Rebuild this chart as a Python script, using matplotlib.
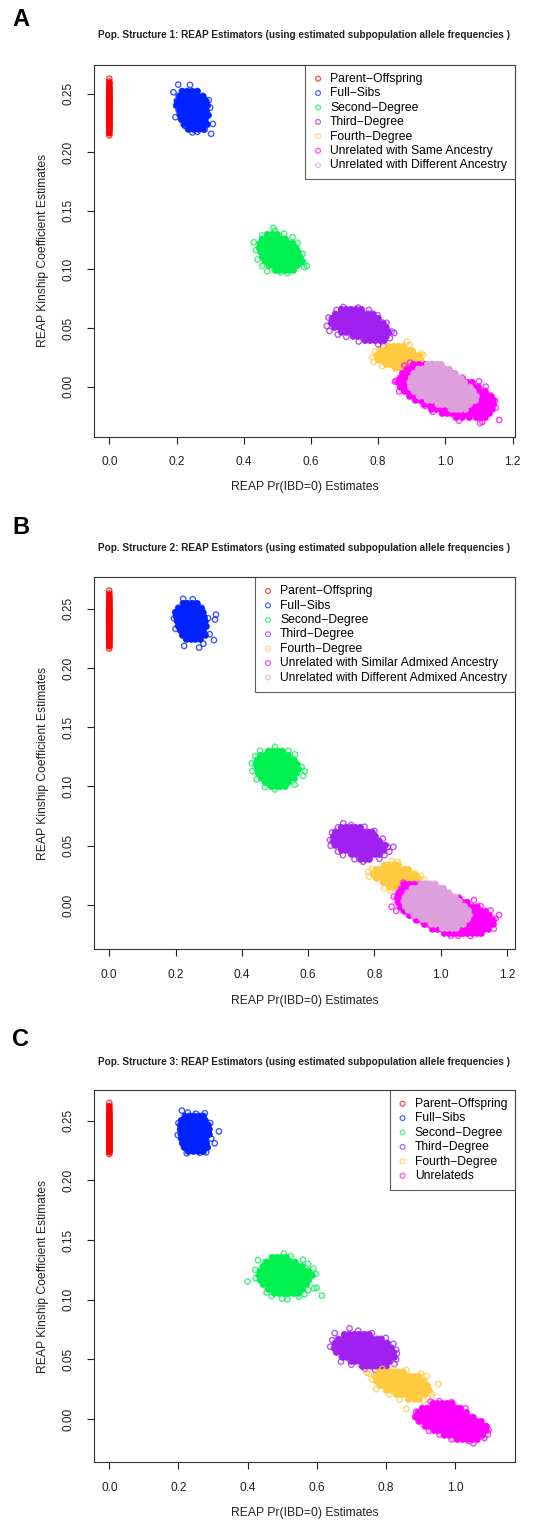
import numpy as np
import matplotlib.pyplot as plt

plt.rcParams['font.family'] = ['Liberation Sans', 'DejaVu Sans']

# colours of the relationship classes (R style)
COLORS = ['#FF0000', '#0022FF', '#00F050', '#A020F0', '#FFC940', '#FF00FF', '#DDA0DD']

LABELS_A = ['Parent\u2212Offspring', 'Full\u2212Sibs', 'Second\u2212Degree', 'Third\u2212Degree',
            'Fourth\u2212Degree', 'Unrelated with Same Ancestry', 'Unrelated with Different Ancestry']
LABELS_B = LABELS_A[:5] + ['Unrelated with Similar Admixed Ancestry',
                           'Unrelated with Different Admixed Ancestry']
LABELS_C = LABELS_A[:5] + ['Unrelateds']

TITLE = 'Pop. Structure {}: REAP Estimators (using estimated subpopulation allele frequencies )'

# ---------------- Pop. structure 1 ----------------
# clusters read as rows: (kinship value, [Pr(IBD=0) values]) plus scattered outliers
A_po_y = [0.2145, 0.2168, 0.2189, 0.2203, 0.2221, 0.2236, 0.2248, 0.2262, 0.2277, 0.2290,
          0.2305, 0.2318, 0.2331, 0.2347, 0.2360, 0.2374, 0.2389, 0.2401, 0.2416, 0.2428,
          0.2443, 0.2457, 0.2470, 0.2484, 0.2497, 0.2512, 0.2526, 0.2541, 0.2558, 0.2579,
          0.2604, 0.2628]
A_fs_rows = [
    (0.2523, [0.216, 0.231, 0.246, 0.262]),
    (0.2482, [0.206, 0.220, 0.234, 0.249, 0.263, 0.278]),
    (0.2441, [0.201, 0.215, 0.229, 0.243, 0.257, 0.272, 0.287]),
    (0.2400, [0.199, 0.212, 0.226, 0.239, 0.253, 0.266, 0.279, 0.292]),
    (0.2360, [0.206, 0.220, 0.233, 0.247, 0.260, 0.274, 0.288]),
    (0.2320, [0.209, 0.223, 0.237, 0.251, 0.265, 0.279, 0.294]),
    (0.2280, [0.214, 0.228, 0.242, 0.256, 0.270, 0.284]),
    (0.2240, [0.221, 0.235, 0.249, 0.263, 0.277, 0.290]),
    (0.2200, [0.234, 0.249, 0.264, 0.278]),
]
A_fs_out = [(0.191, 0.2512), (0.205, 0.2578), (0.240, 0.2575), (0.197, 0.2300), (0.300, 0.2380),
            (0.308, 0.2242), (0.303, 0.2158), (0.247, 0.2170), (0.262, 0.2175), (0.225, 0.2225),
            (0.284, 0.2194), (0.296, 0.2445)]
A_d2_rows = [
    (0.1300, [0.470, 0.484, 0.498]),
    (0.1262, [0.455, 0.468, 0.482, 0.496, 0.510, 0.524]),
    (0.1224, [0.448, 0.461, 0.475, 0.489, 0.503, 0.517, 0.531, 0.545]),
    (0.1186, [0.446, 0.459, 0.473, 0.487, 0.501, 0.515, 0.529, 0.543, 0.556]),
    (0.1148, [0.450, 0.464, 0.478, 0.492, 0.506, 0.520, 0.534, 0.548, 0.562]),
    (0.1110, [0.455, 0.469, 0.483, 0.497, 0.511, 0.525, 0.539, 0.553, 0.566]),
    (0.1072, [0.463, 0.477, 0.491, 0.505, 0.519, 0.533, 0.547, 0.561, 0.574]),
    (0.1034, [0.475, 0.489, 0.503, 0.517, 0.531, 0.545, 0.559]),
    (0.0996, [0.492, 0.506, 0.520, 0.534, 0.548]),
]
A_d2_out = [(0.430, 0.1232), (0.436, 0.1165), (0.441, 0.1085), (0.455, 0.1290), (0.488, 0.1355),
            (0.493, 0.1330), (0.520, 0.1305), (0.545, 0.1275), (0.560, 0.1228), (0.575, 0.1133),
            (0.580, 0.1020), (0.588, 0.1030), (0.572, 0.1065), (0.530, 0.0968), (0.510, 0.0975),
            (0.470, 0.0985), (0.455, 0.1030)]
A_d3_rows = [
    (0.0660, [0.690, 0.704, 0.718, 0.735, 0.750]),
    (0.0622, [0.672, 0.686, 0.700, 0.714, 0.728, 0.742, 0.756, 0.770, 0.784]),
    (0.0584, [0.662, 0.676, 0.690, 0.704, 0.718, 0.732, 0.746, 0.760, 0.774, 0.788, 0.800]),
    (0.0546, [0.660, 0.674, 0.688, 0.702, 0.716, 0.730, 0.744, 0.758, 0.772, 0.786, 0.800, 0.813]),
    (0.0508, [0.668, 0.682, 0.696, 0.710, 0.724, 0.738, 0.752, 0.766, 0.780, 0.794, 0.808, 0.822]),
    (0.0470, [0.690, 0.704, 0.718, 0.732, 0.746, 0.760, 0.774, 0.788, 0.802, 0.816, 0.830]),
    (0.0432, [0.724, 0.738, 0.752, 0.766, 0.780, 0.794, 0.808, 0.822]),
    (0.0394, [0.760, 0.775, 0.790, 0.805, 0.818]),
]
A_d3_out = [(0.647, 0.0518), (0.652, 0.0590), (0.655, 0.0475), (0.676, 0.0655), (0.696, 0.0680),
            (0.740, 0.0675), (0.772, 0.0655), (0.798, 0.0610), (0.825, 0.0545), (0.840, 0.0470),
            (0.848, 0.0458), (0.835, 0.0415), (0.815, 0.0345), (0.800, 0.0360), (0.742, 0.0385),
            (0.705, 0.0425), (0.680, 0.0445)]
A_d4_rows = [
    (0.0345, [0.830, 0.845, 0.860, 0.875]),
    (0.0307, [0.805, 0.819, 0.833, 0.847, 0.861, 0.875, 0.889, 0.902]),
    (0.0269, [0.795, 0.809, 0.823, 0.837, 0.851, 0.865, 0.879, 0.893, 0.907, 0.920]),
    (0.0231, [0.800, 0.814, 0.828, 0.842, 0.856, 0.870, 0.884, 0.898, 0.912, 0.926]),
    (0.0193, [0.822, 0.836, 0.850, 0.864, 0.878, 0.892, 0.906]),
    (0.0160, [0.850, 0.865, 0.880]),
]
A_d4_out = [(0.782, 0.0250), (0.786, 0.0210), (0.790, 0.0300), (0.818, 0.0335), (0.886, 0.0384),
            (0.893, 0.0355), (0.928, 0.0285), (0.934, 0.0270), (0.812, 0.0175), (0.905, 0.0150)]
A_un_rows = [
    (0.0190, [0.905, 0.920, 0.940, 0.960]),
    (0.0152, [0.885, 0.899, 0.913, 0.927, 0.945, 0.965, 0.985]),
    (0.0114, [0.872, 0.886, 0.900, 0.914, 0.930, 0.950, 0.975, 1.000, 1.020]),
    (0.0076, [0.865, 0.879, 0.893, 0.907, 0.925, 0.950, 0.990, 1.030, 1.050]),
    (0.0038, [0.858, 0.872, 0.886, 0.900, 0.915, 0.950, 1.000, 1.045, 1.065, 1.078]),
    (0.0000, [0.866, 0.880, 0.894, 0.908, 0.960, 1.020, 1.070, 1.084, 1.098]),
    (-0.0038, [0.878, 0.892, 0.906, 0.920, 0.970, 1.030, 1.075, 1.089, 1.103, 1.117]),
    (-0.0076, [0.893, 0.907, 0.921, 0.935, 0.990, 1.060, 1.082, 1.096, 1.110, 1.124, 1.135]),
    (-0.0114, [0.910, 0.924, 0.938, 0.952, 0.966, 1.000, 1.040, 1.070, 1.087, 1.101, 1.115,
               1.129, 1.141]),
    (-0.0152, [0.935, 0.949, 0.963, 0.977, 0.991, 1.005, 1.019, 1.033, 1.047, 1.061, 1.075,
               1.089, 1.103, 1.117, 1.131, 1.143]),
    (-0.0190, [0.958, 0.972, 0.986, 1.000, 1.014, 1.028, 1.042, 1.056, 1.070, 1.084, 1.098,
               1.112, 1.126, 1.138]),
    (-0.0228, [0.990, 1.004, 1.018, 1.032, 1.046, 1.060, 1.074, 1.088, 1.102, 1.116, 1.130]),
    (-0.0262, [1.030, 1.050, 1.070, 1.090, 1.105, 1.118]),
]
A_un_out = [(0.850, 0.0043), (0.853, 0.0050), (0.862, -0.0040), (0.878, 0.0180), (0.895, 0.0205),
            (0.940, -0.0165), (0.962, -0.0215), (1.040, -0.0290), (1.103, -0.0310), (1.110, -0.0300),
            (1.160, -0.0284), (1.150, -0.0180), (1.148, -0.0120), (1.120, 0.0000), (1.100, 0.0045)]
A_ud_rows = [
    (0.0190, [0.946, 0.960, 0.974, 0.986]),
    (0.0152, [0.919, 0.932, 0.946, 0.959, 0.973, 0.986, 0.999, 1.010]),
    (0.0114, [0.906, 0.920, 0.933, 0.947, 0.960, 0.974, 0.987, 1.001, 1.014, 1.028]),
    (0.0076, [0.898, 0.911, 0.925, 0.938, 0.952, 0.965, 0.979, 0.992, 1.006, 1.019, 1.033, 1.045]),
    (0.0038, [0.894, 0.907, 0.921, 0.934, 0.948, 0.961, 0.975, 0.988, 1.002, 1.015, 1.029,
              1.042, 1.056]),
    (0.0000, [0.896, 0.910, 0.923, 0.937, 0.950, 0.964, 0.977, 0.991, 1.004, 1.018, 1.031,
              1.045, 1.058, 1.072]),
    (-0.0038, [0.906, 0.919, 0.933, 0.946, 0.960, 0.973, 0.987, 1.000, 1.014, 1.027, 1.041,
               1.054, 1.068, 1.082]),
    (-0.0076, [0.921, 0.935, 0.948, 0.962, 0.975, 0.989, 1.002, 1.016, 1.029, 1.043, 1.056,
               1.070, 1.083, 1.091]),
    (-0.0114, [0.946, 0.960, 0.973, 0.987, 1.000, 1.014, 1.027, 1.041, 1.054, 1.068, 1.081, 1.089]),
    (-0.0152, [0.977, 0.990, 1.004, 1.017, 1.031, 1.044, 1.058, 1.071]),
    (-0.0190, [1.016, 1.030, 1.044, 1.058]),
]
A_ud_out = []

# ---------------- Pop. structure 2 ----------------
B_po_y = [0.2164, 0.2185, 0.2203, 0.2219, 0.2234, 0.2250, 0.2263, 0.2279, 0.2292, 0.2306,
          0.2321, 0.2335, 0.2348, 0.2362, 0.2377, 0.2390, 0.2404, 0.2419, 0.2432, 0.2446,
          0.2461, 0.2474, 0.2488, 0.2503, 0.2517, 0.2531, 0.2546, 0.2562, 0.2580, 0.2601,
          0.2628, 0.2652]
B_fs_rows = [
    (0.2545, [0.222, 0.236, 0.250, 0.264]),
    (0.2508, [0.208, 0.222, 0.236, 0.250, 0.264, 0.278]),
    (0.2470, [0.199, 0.212, 0.226, 0.240, 0.254, 0.268, 0.282]),
    (0.2432, [0.202, 0.216, 0.230, 0.244, 0.258, 0.272, 0.286]),
    (0.2395, [0.205, 0.219, 0.233, 0.247, 0.261, 0.275, 0.289]),
    (0.2357, [0.208, 0.222, 0.236, 0.250, 0.264, 0.278, 0.291]),
    (0.2320, [0.214, 0.228, 0.242, 0.256, 0.270, 0.284]),
    (0.2282, [0.220, 0.234, 0.248, 0.262, 0.276, 0.290]),
    (0.2245, [0.232, 0.246, 0.260, 0.274]),
]
B_fs_out = [(0.223, 0.2583), (0.252, 0.2580), (0.195, 0.2420), (0.200, 0.2330), (0.226, 0.2186),
            (0.271, 0.2172), (0.322, 0.2450), (0.319, 0.2408), (0.298, 0.2420), (0.316, 0.2235),
            (0.303, 0.2285), (0.284, 0.2205)]
B_d2_rows = [
    (0.1300, [0.480, 0.494, 0.508, 0.522]),
    (0.1262, [0.456, 0.470, 0.484, 0.498, 0.512, 0.526, 0.540]),
    (0.1225, [0.446, 0.460, 0.474, 0.488, 0.502, 0.516, 0.530, 0.544, 0.556]),
    (0.1187, [0.442, 0.456, 0.470, 0.484, 0.498, 0.512, 0.526, 0.540, 0.554, 0.566]),
    (0.1150, [0.446, 0.460, 0.474, 0.488, 0.502, 0.516, 0.530, 0.544, 0.558, 0.570]),
    (0.1112, [0.450, 0.464, 0.478, 0.492, 0.506, 0.520, 0.534, 0.548, 0.562]),
    (0.1075, [0.458, 0.472, 0.486, 0.500, 0.514, 0.528, 0.542, 0.556]),
    (0.1037, [0.470, 0.484, 0.498, 0.512, 0.526, 0.540]),
    (0.1000, [0.488, 0.502, 0.516, 0.530]),
]
B_d2_out = [(0.430, 0.1195), (0.432, 0.1130), (0.440, 0.1255), (0.455, 0.1300), (0.500, 0.1335),
            (0.540, 0.1300), (0.560, 0.1270), (0.580, 0.1165), (0.590, 0.1130), (0.585, 0.1090),
            (0.560, 0.1015), (0.500, 0.0975), (0.470, 0.0995), (0.445, 0.1060)]
B_d3_rows = [
    (0.0655, [0.700, 0.714, 0.728, 0.742, 0.756]),
    (0.0617, [0.682, 0.696, 0.710, 0.724, 0.738, 0.752, 0.766, 0.780, 0.792]),
    (0.0580, [0.676, 0.690, 0.704, 0.718, 0.732, 0.746, 0.760, 0.774, 0.788, 0.802]),
    (0.0542, [0.674, 0.688, 0.702, 0.716, 0.730, 0.744, 0.758, 0.772, 0.786, 0.800, 0.814]),
    (0.0505, [0.680, 0.694, 0.708, 0.722, 0.736, 0.750, 0.764, 0.778, 0.792, 0.806, 0.820, 0.832]),
    (0.0467, [0.700, 0.714, 0.728, 0.742, 0.756, 0.770, 0.784, 0.798, 0.812, 0.826]),
    (0.0430, [0.730, 0.744, 0.758, 0.772, 0.786, 0.800, 0.814]),
    (0.0392, [0.755, 0.770, 0.785]),
]
B_d3_out = [(0.666, 0.0548), (0.668, 0.0500), (0.672, 0.0610), (0.690, 0.0655), (0.706, 0.0690),
            (0.730, 0.0675), (0.770, 0.0660), (0.800, 0.0625), (0.825, 0.0560), (0.840, 0.0490),
            (0.857, 0.0490), (0.845, 0.0450), (0.830, 0.0420), (0.815, 0.0390), (0.766, 0.0365),
            (0.740, 0.0385), (0.705, 0.0420), (0.690, 0.0450)]
B_d4_rows = [
    (0.0340, [0.830, 0.844, 0.858, 0.872]),
    (0.0302, [0.805, 0.819, 0.833, 0.847, 0.861, 0.875, 0.889, 0.902]),
    (0.0265, [0.796, 0.810, 0.824, 0.838, 0.852, 0.866, 0.880, 0.894, 0.908, 0.922]),
    (0.0227, [0.806, 0.820, 0.834, 0.848, 0.862, 0.876, 0.890, 0.904, 0.918, 0.932]),
    (0.0190, [0.826, 0.840, 0.854, 0.868, 0.882, 0.896, 0.910, 0.924]),
    (0.0155, [0.845, 0.860, 0.875]),
]
B_d4_out = [(0.781, 0.0280), (0.784, 0.0240), (0.792, 0.0305), (0.852, 0.0370), (0.870, 0.0365),
            (0.940, 0.0245), (0.952, 0.0210), (0.945, 0.0175), (0.847, 0.0120), (0.830, 0.0140)]
B_un_rows = [
    (0.0175, [0.890, 0.904, 0.918, 0.935, 0.955]),
    (0.0137, [0.880, 0.894, 0.908, 0.922, 0.940, 0.965]),
    (0.0100, [0.872, 0.886, 0.900, 0.914, 0.930, 0.960, 0.990, 1.010]),
    (0.0062, [0.868, 0.882, 0.896, 0.910, 0.930, 0.970, 1.020, 1.040, 1.055]),
    (0.0025, [0.870, 0.884, 0.898, 0.912, 0.950, 1.000, 1.050, 1.065, 1.079]),
    (-0.0013, [0.876, 0.890, 0.904, 0.918, 0.960, 1.030, 1.070, 1.084, 1.098, 1.110]),
    (-0.0050, [0.888, 0.902, 0.916, 0.930, 0.990, 1.060, 1.080, 1.094, 1.108, 1.122, 1.135]),
    (-0.0088, [0.905, 0.919, 0.933, 0.947, 1.000, 1.050, 1.075, 1.089, 1.103, 1.117, 1.131, 1.145]),
    (-0.0125, [0.925, 0.939, 0.953, 0.967, 0.990, 1.020, 1.050, 1.075, 1.090, 1.104, 1.118,
               1.132, 1.146, 1.158]),
    (-0.0163, [0.950, 0.964, 0.978, 0.992, 1.006, 1.020, 1.034, 1.048, 1.062, 1.076, 1.090,
               1.104, 1.118, 1.132, 1.146, 1.158]),
    (-0.0200, [0.975, 0.989, 1.003, 1.017, 1.031, 1.045, 1.059, 1.073, 1.087, 1.101, 1.115,
               1.129, 1.142]),
    (-0.0238, [1.010, 1.024, 1.038, 1.052, 1.066, 1.080, 1.094, 1.108, 1.120]),
]
B_un_out = [(0.852, -0.0014), (0.858, 0.0070), (0.866, -0.0050), (0.887, 0.0188), (1.053, -0.0260),
            (1.090, -0.0262), (1.176, -0.0084), (1.165, -0.0115), (1.160, -0.0200), (1.120, -0.0010),
            (1.100, 0.0040), (1.060, -0.0240), (1.030, -0.0260), (1.150, -0.0045)]
B_ud_rows = [
    (0.0180, [0.940, 0.954, 0.968, 0.982]),
    (0.0142, [0.913, 0.927, 0.941, 0.955, 0.969, 0.983, 0.997, 1.008]),
    (0.0105, [0.900, 0.914, 0.928, 0.942, 0.956, 0.970, 0.984, 0.998, 1.012, 1.025]),
    (0.0067, [0.892, 0.906, 0.920, 0.934, 0.948, 0.962, 0.976, 0.990, 1.004, 1.018, 1.032, 1.043]),
    (0.0030, [0.888, 0.902, 0.916, 0.930, 0.944, 0.958, 0.972, 0.986, 1.000, 1.014, 1.028,
              1.042, 1.055]),
    (-0.0008, [0.892, 0.906, 0.920, 0.934, 0.948, 0.962, 0.976, 0.990, 1.004, 1.018, 1.032,
               1.046, 1.060, 1.071]),
    (-0.0045, [0.902, 0.916, 0.930, 0.944, 0.958, 0.972, 0.986, 1.000, 1.014, 1.028, 1.042,
               1.056, 1.070, 1.082]),
    (-0.0083, [0.918, 0.932, 0.946, 0.960, 0.974, 0.988, 1.002, 1.016, 1.030, 1.044, 1.058,
               1.072, 1.086]),
    (-0.0120, [0.942, 0.956, 0.970, 0.984, 0.998, 1.012, 1.026, 1.040, 1.054, 1.068, 1.080]),
    (-0.0158, [0.970, 0.984, 0.998, 1.012, 1.026, 1.040, 1.054, 1.066]),
    (-0.0195, [1.005, 1.019, 1.033, 1.047]),
]
B_ud_out = []

# ---------------- Pop. structure 3 ----------------
C_po_y = [0.2220, 0.2238, 0.2254, 0.2267, 0.2281, 0.2294, 0.2306, 0.2319, 0.2331, 0.2344,
          0.2356, 0.2369, 0.2381, 0.2394, 0.2406, 0.2419, 0.2431, 0.2444, 0.2457, 0.2469,
          0.2482, 0.2495, 0.2508, 0.2522, 0.2537, 0.2553, 0.2571, 0.2596, 0.2623, 0.2648]
C_fs_rows = [
    (0.2540, [0.218, 0.232, 0.246, 0.260, 0.272]),
    (0.2502, [0.208, 0.221, 0.235, 0.249, 0.263, 0.276]),
    (0.2465, [0.205, 0.218, 0.232, 0.246, 0.260, 0.274, 0.286]),
    (0.2427, [0.205, 0.219, 0.233, 0.247, 0.261, 0.275, 0.288]),
    (0.2390, [0.206, 0.220, 0.234, 0.248, 0.262, 0.276, 0.288]),
    (0.2352, [0.208, 0.222, 0.236, 0.250, 0.264, 0.278]),
    (0.2315, [0.211, 0.225, 0.239, 0.253, 0.267, 0.281]),
    (0.2277, [0.216, 0.230, 0.244, 0.258, 0.272, 0.284]),
    (0.2245, [0.228, 0.242, 0.256, 0.270]),
]
C_fs_out = [(0.210, 0.2584), (0.227, 0.2568), (0.250, 0.2558), (0.276, 0.2562), (0.200, 0.2480),
            (0.198, 0.2380), (0.224, 0.2227), (0.262, 0.2232), (0.280, 0.2235), (0.317, 0.2410),
            (0.305, 0.2310), (0.295, 0.2350), (0.292, 0.2480)]
C_d2_rows = [
    (0.1355, [0.470, 0.484, 0.498, 0.512]),
    (0.1318, [0.452, 0.466, 0.480, 0.494, 0.508, 0.522, 0.536]),
    (0.1280, [0.444, 0.458, 0.472, 0.486, 0.500, 0.514, 0.528, 0.542, 0.556]),
    (0.1243, [0.436, 0.450, 0.464, 0.478, 0.492, 0.506, 0.520, 0.534, 0.548, 0.562, 0.576]),
    (0.1205, [0.432, 0.446, 0.460, 0.474, 0.488, 0.502, 0.516, 0.530, 0.544, 0.558, 0.572, 0.586]),
    (0.1168, [0.436, 0.450, 0.464, 0.478, 0.492, 0.506, 0.520, 0.534, 0.548, 0.562, 0.576]),
    (0.1130, [0.444, 0.458, 0.472, 0.486, 0.500, 0.514, 0.528, 0.542, 0.556, 0.570]),
    (0.1093, [0.458, 0.472, 0.486, 0.500, 0.514, 0.528, 0.542, 0.556]),
    (0.1055, [0.476, 0.490, 0.504, 0.518, 0.532, 0.546]),
]
C_d2_out = [(0.400, 0.1152), (0.422, 0.1250), (0.424, 0.1180), (0.430, 0.1330), (0.505, 0.1385),
            (0.525, 0.1365), (0.560, 0.1335), (0.575, 0.1300), (0.590, 0.1260), (0.598, 0.1215),
            (0.592, 0.1095), (0.600, 0.1100), (0.615, 0.1033), (0.575, 0.1080), (0.565, 0.1045),
            (0.548, 0.1025), (0.515, 0.1003), (0.500, 0.1010), (0.470, 0.1030), (0.455, 0.1060)]
C_d3_rows = [
    (0.0710, [0.680, 0.694, 0.708, 0.722, 0.736, 0.750]),
    (0.0672, [0.662, 0.676, 0.690, 0.704, 0.718, 0.732, 0.746, 0.760, 0.774, 0.786]),
    (0.0635, [0.652, 0.666, 0.680, 0.694, 0.708, 0.722, 0.736, 0.750, 0.764, 0.778, 0.792, 0.804]),
    (0.0597, [0.650, 0.664, 0.678, 0.692, 0.706, 0.720, 0.734, 0.748, 0.762, 0.776, 0.790,
              0.804, 0.816]),
    (0.0560, [0.656, 0.670, 0.684, 0.698, 0.712, 0.726, 0.740, 0.754, 0.768, 0.782, 0.796,
              0.810, 0.822]),
    (0.0522, [0.672, 0.686, 0.700, 0.714, 0.728, 0.742, 0.756, 0.770, 0.784, 0.798, 0.812, 0.824]),
    (0.0485, [0.698, 0.712, 0.726, 0.740, 0.754, 0.768, 0.782, 0.796, 0.810]),
    (0.0447, [0.730, 0.744, 0.758, 0.772, 0.786, 0.800]),
]
C_d3_out = [(0.639, 0.0606), (0.645, 0.0660), (0.652, 0.0720), (0.695, 0.0760), (0.720, 0.0740),
            (0.760, 0.0720), (0.800, 0.0680), (0.822, 0.0630), (0.830, 0.0580), (0.832, 0.0550),
            (0.830, 0.0500), (0.825, 0.0460), (0.795, 0.0430), (0.769, 0.0410), (0.740, 0.0420),
            (0.700, 0.0455), (0.670, 0.0480)]
C_d4_rows = [
    (0.0395, [0.780, 0.794, 0.808, 0.822, 0.836, 0.850]),
    (0.0357, [0.770, 0.784, 0.798, 0.812, 0.826, 0.840, 0.854, 0.868, 0.882, 0.895]),
    (0.0320, [0.772, 0.786, 0.800, 0.814, 0.828, 0.842, 0.856, 0.870, 0.884, 0.898, 0.910]),
    (0.0282, [0.782, 0.796, 0.810, 0.824, 0.838, 0.852, 0.866, 0.880, 0.894, 0.908, 0.920]),
    (0.0245, [0.800, 0.814, 0.828, 0.842, 0.856, 0.870, 0.884, 0.898, 0.912, 0.925]),
    (0.0207, [0.830, 0.844, 0.858, 0.872, 0.886, 0.900, 0.914]),
    (0.0170, [0.865, 0.880, 0.895]),
]
C_d4_out = [(0.745, 0.0388), (0.752, 0.0380), (0.760, 0.0330), (0.772, 0.0250), (0.790, 0.0420),
            (0.821, 0.0425), (0.860, 0.0410), (0.902, 0.0380), (0.918, 0.0360), (0.952, 0.0293),
            (0.935, 0.0185), (0.932, 0.0210), (0.859, 0.0084), (0.810, 0.0205), (0.840, 0.0165),
            (0.910, 0.0150)]
C_un_rows = [
    (0.0130, [0.935, 0.949, 0.963, 0.977, 0.990]),
    (0.0092, [0.905, 0.919, 0.933, 0.947, 0.961, 0.975, 0.989, 1.003, 1.015]),
    (0.0055, [0.892, 0.906, 0.920, 0.934, 0.948, 0.962, 0.976, 0.990, 1.004, 1.018, 1.032]),
    (0.0017, [0.886, 0.900, 0.914, 0.928, 0.942, 0.956, 0.970, 0.984, 0.998, 1.012, 1.026,
              1.040, 1.052]),
    (-0.0020, [0.895, 0.909, 0.923, 0.937, 0.951, 0.965, 0.979, 0.993, 1.007, 1.021, 1.035,
               1.049, 1.063, 1.075]),
    (-0.0058, [0.912, 0.926, 0.940, 0.954, 0.968, 0.982, 0.996, 1.010, 1.024, 1.038, 1.052,
               1.066, 1.080, 1.090]),
    (-0.0095, [0.938, 0.952, 0.966, 0.980, 0.994, 1.008, 1.022, 1.036, 1.050, 1.064, 1.078, 1.090]),
    (-0.0133, [0.968, 0.982, 0.996, 1.010, 1.024, 1.038, 1.052, 1.066, 1.078]),
    (-0.0170, [1.005, 1.020, 1.035, 1.050, 1.063]),
]
C_un_out = [(0.885, 0.0019), (0.888, 0.0060), (0.929, 0.0145), (0.955, 0.0150), (0.990, 0.0140),
            (1.030, 0.0090), (1.097, -0.0092), (1.095, -0.0130), (1.085, -0.0160), (1.053, -0.0204),
            (1.040, -0.0185), (0.990, -0.0170), (0.955, -0.0130), (0.925, -0.0100)]


def expand(rows):
    """Turn (y, [x...]) rows into two arrays."""
    xs = [x for _, row in rows for x in row]
    ys = [y for y, row in rows for _ in row]
    return np.array(xs), np.array(ys)


PANELS = [
    dict(letter='A', num=1, labels=LABELS_A, po=A_po_y,
         clusters=[(A_fs_rows, A_fs_out), (A_d2_rows, A_d2_out), (A_d3_rows, A_d3_out),
                   (A_d4_rows, A_d4_out), (A_un_rows, A_un_out), (A_ud_rows, A_ud_out)],
         xlim=(-0.0455, 1.207), ylim=(-0.0427, 0.2745), xticks=[0, 0.2, 0.4, 0.6, 0.8, 1.0, 1.2],
         top=65.0, bottom=436.7, title_y=35, letter_y=20, xlabel_y=487),
    dict(letter='B', num=2, labels=LABELS_B, po=B_po_y,
         clusters=[(B_fs_rows, B_fs_out), (B_d2_rows, B_d2_out), (B_d3_rows, B_d3_out),
                   (B_d4_rows, B_d4_out), (B_un_rows, B_un_out), (B_ud_rows, B_ud_out)],
         xlim=(-0.046, 1.224), ylim=(-0.0374, 0.2765), xticks=[0, 0.2, 0.4, 0.6, 0.8, 1.0, 1.2],
         top=577.3, bottom=949.3, title_y=548, letter_y=527, xlabel_y=1001),
    dict(letter='C', num=3, labels=LABELS_C, po=C_po_y,
         clusters=[(C_fs_rows, C_fs_out), (C_d2_rows, C_d2_out), (C_d3_rows, C_d3_out),
                   (C_d4_rows, C_d4_out), (C_un_rows, C_un_out)],
         xlim=(-0.0443, 1.1736), ylim=(-0.0363, 0.2757), xticks=[0, 0.2, 0.4, 0.6, 0.8, 1.0],
         top=1090.0, bottom=1462.3, title_y=1062, letter_y=1039, xlabel_y=1513),
]

W, H = 533, 1522
fig = plt.figure(figsize=(W / 100, H / 100), dpi=100)

for p in PANELS:
    left, right = 94, 515
    ax = fig.add_axes([left / W, 1 - p['bottom'] / H, (right - left) / W,
                       (p['bottom'] - p['top']) / H])
    handles = []
    po_y = np.array(p['po'])
    po_x = np.zeros(len(po_y))
    # parent-offspring pairs all sit on Pr(IBD=0) = 0
    ax.scatter(po_x[1:-1], po_y[1:-1], s=20, color=COLORS[0], linewidths=0)
    handles.append(ax.scatter(po_x, po_y, s=15, facecolors='none',
                              edgecolors=COLORS[0], linewidths=1.0, alpha=0.75))
    for i, (rows, extra) in enumerate(p['clusters'], start=1):
        cx_, cy_ = expand(rows)
        ox = np.array([q[0] for q in extra])
        oy = np.array([q[1] for q in extra])
        # dense core: overlapping circles read as a solid patch
        ax.scatter(cx_, cy_, s=22, color=COLORS[i], linewidths=0)
        xs = np.concatenate([cx_, ox])
        ys = np.concatenate([cy_, oy])
        handles.append(ax.scatter(xs, ys, s=15, facecolors='none', edgecolors=COLORS[i],
                                  linewidths=1.0, alpha=0.75))

    ax.set_xlim(*p['xlim'])
    ax.set_ylim(*p['ylim'])
    ax.set_xticks(p['xticks'])
    ax.set_xticklabels(['%.1f' % v for v in p['xticks']])
    yt = [0.0, 0.05, 0.10, 0.15, 0.20, 0.25]
    ax.set_yticks(yt)
    ax.set_yticklabels(['%.2f' % v for v in yt], rotation=90, va='center')
    ax.tick_params(length=5, width=0.8, pad=9, labelsize=8.6, colors='#222222')
    for sp in ax.spines.values():
        sp.set_linewidth(0.8)
        sp.set_color('#333333')

    leg = ax.legend(handles, p['labels'], loc='upper right', borderaxespad=0,
                    fontsize=8.7, frameon=True, fancybox=False, scatterpoints=1,
                    handlelength=0.8, handletextpad=0.6, labelspacing=0.2, borderpad=0.65)
    leg.get_frame().set_edgecolor('#333333')
    leg.get_frame().set_linewidth(0.8)
    for h in leg.legend_handles:
        h.set_sizes([12])
        h.set_linewidths([0.9])
        h.set_alpha(0.7)

    cx = (left + right) / 2 / W
    fig.text(cx, 1 - p['title_y'] / H, TITLE.format(p['num']), ha='center', va='center',
             fontsize=7.2, fontweight='bold', color='#222222')
    fig.text(12 / W, 1 - p['letter_y'] / H, p['letter'], ha='left', va='center',
             fontsize=17, fontweight='bold')
    fig.text(cx, 1 - p['xlabel_y'] / H, 'REAP Pr(IBD=0) Estimates', ha='center', va='center',
             fontsize=8.7, color='#222222')
    fig.text(43 / W, 1 - (p['top'] + p['bottom']) / 2 / H, 'REAP Kinship Coefficient Estimates',
             ha='center', va='center', rotation=90, fontsize=8.7, color='#222222')

fig.savefig('out.png', dpi=100)
